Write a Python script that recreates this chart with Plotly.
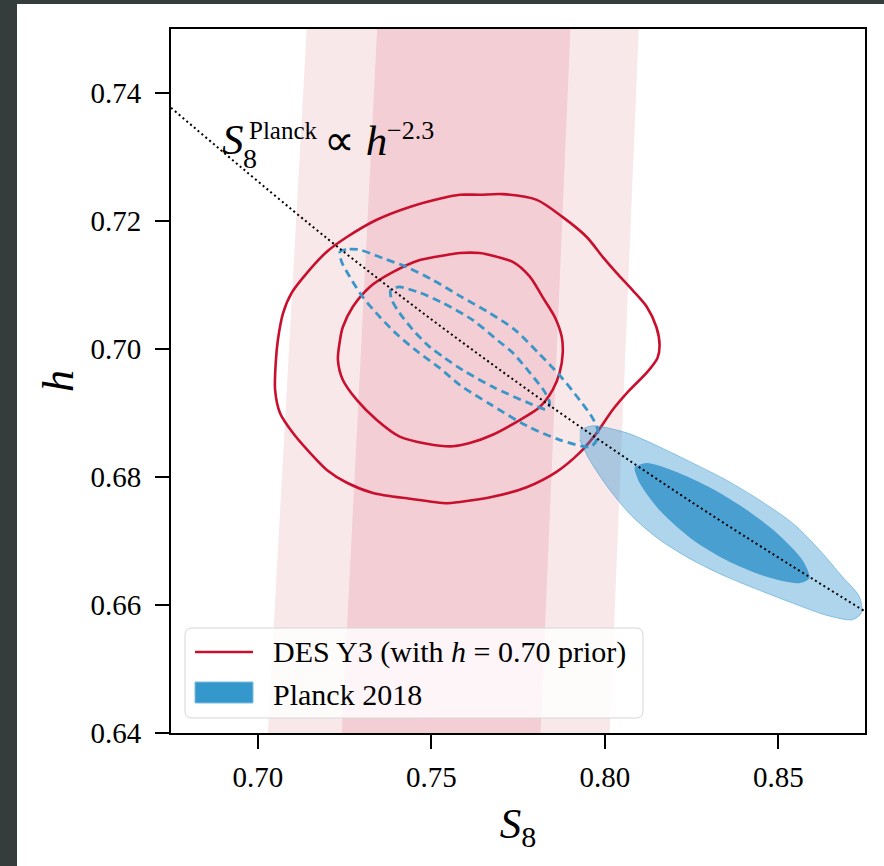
import plotly.graph_objects as go

# ---------------- data ----------------
# S8^Planck ∝ h^-2.3 reference line
line_s8 = [0.675, 0.725, 0.775, 0.825, 0.875]
line_h = [0.7377, 0.7151, 0.6947, 0.6761, 0.6590]

# DES Y3 S8 bands (1σ inner, 2σ outer): edges at top (h=0.75) and bottom (h=0.64)
band_h = [0.75, 0.64]
band_outer_left = [0.7141, 0.7029]
band_outer_right = [0.8098, 0.8014]
band_inner_left = [0.7344, 0.7242]
band_inner_right = [0.7901, 0.7815]

# DES Y3 (with h=0.70 prior) contours
des_outer_s8 = [0.7582, 0.7640, 0.7706, 0.7804, 0.7879, 0.7948, 0.7994, 0.8034, 0.8080, 0.8121,
                0.8149, 0.8158, 0.8152, 0.8121, 0.8072, 0.8023, 0.7977, 0.7928, 0.7861, 0.7775,
                0.7677, 0.7582, 0.7545, 0.7438, 0.7332, 0.7257, 0.7199, 0.7150, 0.7101, 0.7064,
                0.7050, 0.7052, 0.7058, 0.7073, 0.7098, 0.7142, 0.7199, 0.7257, 0.7343, 0.7438,
                0.7533, 0.7582]
des_outer_h = [0.7241, 0.7241, 0.7242, 0.7233, 0.7206, 0.7175, 0.7144, 0.7119, 0.7092, 0.7066,
               0.7034, 0.7006, 0.6986, 0.6963, 0.6936, 0.6905, 0.6869, 0.6838, 0.6808, 0.6784,
               0.6769, 0.6761, 0.6759, 0.6766, 0.6775, 0.6791, 0.6811, 0.6838, 0.6869, 0.6900,
               0.6936, 0.6980, 0.7014, 0.7056, 0.7088, 0.7119, 0.7152, 0.7175, 0.7202, 0.7222,
               0.7236, 0.7241]
des_inner_s8 = [0.7582, 0.7640, 0.7669, 0.7735, 0.7784, 0.7821, 0.7856, 0.7876, 0.7879, 0.7870,
                0.7850, 0.7812, 0.7755, 0.7677, 0.7611, 0.7562, 0.7487, 0.7409, 0.7343, 0.7286,
                0.7245, 0.7231, 0.7237, 0.7245, 0.7274, 0.7323, 0.7389, 0.7467, 0.7545, 0.7582]
des_inner_h = [0.7150, 0.7150, 0.7147, 0.7136, 0.7113, 0.7081, 0.7050, 0.7019, 0.6994, 0.6963,
               0.6936, 0.6909, 0.6889, 0.6866, 0.6853, 0.6848, 0.6852, 0.6863, 0.6889, 0.6920,
               0.6952, 0.6983, 0.7014, 0.7034, 0.7066, 0.7097, 0.7120, 0.7139, 0.7147, 0.7150]

# dashed blue contours
dash_outer_s8 = [0.7237, 0.7265, 0.7294, 0.7360, 0.7430, 0.7504, 0.7582, 0.7669, 0.7741, 0.7812,
                 0.7870, 0.7928, 0.7965, 0.7980, 0.7977, 0.7962, 0.7948, 0.7870, 0.7775, 0.7669,
                 0.7582, 0.7525, 0.7458, 0.7401, 0.7352, 0.7303, 0.7265, 0.7242, 0.7237]
dash_outer_h = [0.7152, 0.7156, 0.7155, 0.7142, 0.7128, 0.7108, 0.7083, 0.7056, 0.7030, 0.6992,
                0.6959, 0.6920, 0.6892, 0.6873, 0.6858, 0.6848, 0.6847, 0.6858, 0.6880, 0.6914,
                0.6944, 0.6970, 0.6997, 0.7023, 0.7050, 0.7081, 0.7113, 0.7136, 0.7152]
dash_inner_s8 = [0.7383, 0.7398, 0.7409, 0.7467, 0.7533, 0.7620, 0.7697, 0.7735, 0.7784, 0.7827,
                 0.7841, 0.7833, 0.7775, 0.7677, 0.7591, 0.7539, 0.7496, 0.7447, 0.7409, 0.7386,
                 0.7383]
dash_inner_h = [0.7092, 0.7096, 0.7097, 0.7088, 0.7072, 0.7045, 0.7011, 0.6994, 0.6963, 0.6933,
                0.6916, 0.6906, 0.6917, 0.6941, 0.6967, 0.6986, 0.7003, 0.7030, 0.7056, 0.7077,
                0.7092]

# Planck 2018 filled contours
planck_outer_s8 = [0.7928, 0.7965, 0.8063, 0.8158, 0.8253, 0.8351, 0.8446, 0.8541, 0.8619, 0.8685,
                   0.8734, 0.8740, 0.8714, 0.8639, 0.8541, 0.8446, 0.8351, 0.8253, 0.8158, 0.8080,
                   0.8014, 0.7956, 0.7928]
planck_outer_h = [0.6873, 0.6880, 0.6869, 0.6847, 0.6822, 0.6795, 0.6764, 0.6728, 0.6686, 0.6644,
                  0.6613, 0.6588, 0.6577, 0.6584, 0.6603, 0.6623, 0.6644, 0.6670, 0.6702, 0.6738,
                  0.6780, 0.6827, 0.6858]
planck_inner_s8 = [0.8086, 0.8121, 0.8207, 0.8302, 0.8397, 0.8495, 0.8570, 0.8590, 0.8561, 0.8466,
                   0.8351, 0.8253, 0.8158, 0.8100, 0.8086]
planck_inner_h = [0.6816, 0.6822, 0.6808, 0.6784, 0.6753, 0.6713, 0.6670, 0.6642, 0.6634, 0.6644,
                  0.6670, 0.6702, 0.6748, 0.6791, 0.6811]

x_ticks = [0.70, 0.75, 0.80, 0.85]
y_ticks = [0.64, 0.66, 0.68, 0.70, 0.72, 0.74]
x_range = [0.675, 0.875]
y_range = [0.64, 0.75]

legend_labels = ["DES Y3 (with <i>h</i> = 0.70 prior)", "Planck 2018"]

# ---------------- styling ----------------
FONT = "Liberation Serif"
RED = "#c8102e"
BLUE_DASH = "#3a96c8"
W, H = 884, 866
L, R, T, B = 171, 865, 29, 733  # plot area in pixels


def paper(px, py):
    return (px - L) / (R - L), (B - py) / (B - T)


fig = go.Figure()

# bands
fig.add_trace(go.Scatter(
    x=band_outer_left + band_outer_right[::-1],
    y=band_h + band_h[::-1],
    fill="toself", fillcolor="#f9e8ea", line=dict(width=0), mode="lines",
    hoverinfo="skip", showlegend=False))
fig.add_trace(go.Scatter(
    x=band_inner_left + band_inner_right[::-1],
    y=band_h + band_h[::-1],
    fill="toself", fillcolor="#f3ced4", line=dict(width=0), mode="lines",
    hoverinfo="skip", showlegend=False))

# DES contours
for xs, ys in [(des_outer_s8, des_outer_h), (des_inner_s8, des_inner_h)]:
    fig.add_trace(go.Scatter(x=xs, y=ys, mode="lines",
                             line=dict(color=RED, width=2.6, shape="spline", smoothing=0.8),
                             showlegend=False, hoverinfo="skip"))

# dashed blue contours
for xs, ys in [(dash_outer_s8, dash_outer_h), (dash_inner_s8, dash_inner_h)]:
    fig.add_trace(go.Scatter(x=xs, y=ys, mode="lines",
                             line=dict(color=BLUE_DASH, width=2.8, dash="8px,5px",
                                       shape="spline", smoothing=0.8),
                             showlegend=False, hoverinfo="skip"))

# Planck filled contours
fig.add_trace(go.Scatter(x=planck_outer_s8, y=planck_outer_h, mode="lines", fill="toself",
                         fillcolor="rgba(45,145,205,0.38)",
                         line=dict(color="rgba(45,145,205,0.45)", width=1, shape="spline", smoothing=0.8),
                         showlegend=False, hoverinfo="skip"))
fig.add_trace(go.Scatter(x=planck_inner_s8, y=planck_inner_h, mode="lines", fill="toself",
                         fillcolor="rgba(40,140,200,0.75)",
                         line=dict(width=0, shape="spline", smoothing=0.8),
                         showlegend=False, hoverinfo="skip"))

# power-law line
fig.add_trace(go.Scatter(x=line_s8, y=line_h, mode="lines",
                         line=dict(color="black", width=2.0, dash="2px,3px", shape="spline"),
                         showlegend=False, hoverinfo="skip"))

shapes = []
# background: dark frame + white canvas
x0, y0 = paper(17, 4)
x1, y1 = paper(W + 20, H + 20)
shapes.append(dict(type="rect", xref="paper", yref="paper", x0=x0, y0=y1, x1=x1, y1=y0,
                   fillcolor="white", line=dict(width=0), layer="below"))

# manual legend box
bx0, by0 = paper(185, 718)
bx1, by1 = paper(643, 628)
rx = 7 / (R - L)
ry = 7 / (B - T)
path = (f"M{bx0+rx},{by0} L{bx1-rx},{by0} Q{bx1},{by0} {bx1},{by0+ry} "
        f"L{bx1},{by1-ry} Q{bx1},{by1} {bx1-rx},{by1} L{bx0+rx},{by1} "
        f"Q{bx0},{by1} {bx0},{by1-ry} L{bx0},{by0+ry} Q{bx0},{by0} {bx0+rx},{by0} Z")
shapes.append(dict(type="path", xref="paper", yref="paper", path=path,
                   fillcolor="rgba(255,255,255,0.8)", line=dict(color="#d6d6d6", width=1),
                   layer="above"))
lx0, ly = paper(195, 652)
lx1, _ = paper(253, 652)
shapes.append(dict(type="line", xref="paper", yref="paper", x0=lx0, x1=lx1, y0=ly, y1=ly,
                   line=dict(color=RED, width=2.6), layer="above"))
rx0, ry0 = paper(195, 703)
rx1, ry1 = paper(253, 682)
shapes.append(dict(type="rect", xref="paper", yref="paper", x0=rx0, x1=rx1, y0=ry0, y1=ry1,
                   fillcolor="#3498cc", line=dict(color="#7fbde0", width=1), layer="above"))

annotations = []
tx, ty1 = paper(271, 652)
_, ty2 = paper(271, 694)
for lab, yy in zip(legend_labels, [ty1, ty2]):
    annotations.append(dict(xref="paper", yref="paper", x=tx, y=yy, text=lab, showarrow=False,
                            xanchor="left", yanchor="middle",
                            font=dict(family=FONT, size=30, color="black")))

# power-law label (placed in data coordinates)
label_parts = [
    ("<i>S</i>", 0.6891, 0.7328, 43),
    ("8", 0.6951, 0.7297, 28),
    ("Planck", 0.6968, 0.7342, 25),
    ("∝ <i>h</i>", 0.7185, 0.7326, 43),
    ("−2.3", 0.7366, 0.7341, 26),
]
for txt, xx, yy, fs in label_parts:
    annotations.append(dict(xref="x", yref="y", x=xx, y=yy, text=txt, showarrow=False,
                            xanchor="left", yanchor="middle",
                            font=dict(family=FONT, size=fs, color="black")))

axis_common = dict(showgrid=False, zeroline=False, showline=True, linecolor="black", linewidth=1.8,
                   mirror=True, ticks="outside", ticklen=14, tickwidth=1.6, tickcolor="black",
                   tickfont=dict(family=FONT, size=29, color="black"), tickformat=".2f")

fig.update_layout(
    width=W, height=H,
    margin=dict(l=L, r=W - R, t=T, b=H - B),
    paper_bgcolor="#343c3c",
    plot_bgcolor="white",
    showlegend=False,
    shapes=shapes,
    annotations=annotations,
    xaxis=dict(range=x_range, tickvals=x_ticks, ticklabelstandoff=3, **axis_common,
               title=dict(text="<i>S</i><sub>8</sub>", font=dict(family=FONT, size=43, color="black"),
                          standoff=16)),
    yaxis=dict(range=y_range, tickvals=y_ticks, ticklabelstandoff=8, **axis_common,
               title=dict(text="<i>h</i>", font=dict(family=FONT, size=44, color="black"),
                          standoff=3)),
)

fig.write_html("out.html", config={"displayModeBar": False})
